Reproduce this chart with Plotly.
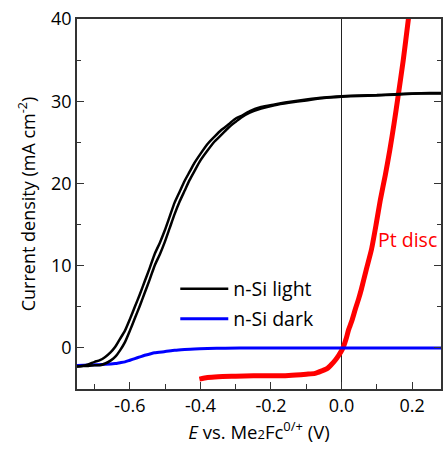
import plotly.graph_objects as go

# n-Si light (two scan directions)
E_light = [-0.75, -0.735, -0.718, -0.70, -0.685, -0.67, -0.655, -0.642, -0.628, -0.614, -0.60,
           -0.586, -0.572, -0.558, -0.544, -0.53, -0.515, -0.501, -0.487, -0.473, -0.459, -0.445,
           -0.431, -0.417, -0.40, -0.38, -0.36, -0.341, -0.32, -0.30, -0.285, -0.26, -0.228,
           -0.19, -0.15, -0.10, -0.05, 0.0, 0.05, 0.10, 0.15, 0.20, 0.25, 0.30]
J_light_fwd = [-2.25, -2.2, -2.0, -1.7, -1.5, -1.1, -0.55, 0.1, 1.1, 2.1, 3.5, 5.0, 6.5, 8.1, 9.7,
               11.4, 12.8, 14.3, 16.0, 17.7, 19.0, 20.3, 21.4, 22.5, 23.6, 24.8, 25.7, 26.5, 27.2,
               27.9, 28.2, 28.8, 29.3, 29.6, 29.9, 30.2, 30.45, 30.6, 30.7, 30.75, 30.85, 30.95,
               31.0, 31.0]
J_light_rev = [-2.25, -2.2, -2.2, -2.1, -2.1, -1.9, -1.55, -1.1, -0.3, 0.7, 2.1, 3.6, 5.1, 6.7, 8.3,
               10.0, 11.4, 12.9, 14.6, 16.3, 17.8, 19.1, 20.4, 21.5, 22.8, 24.0, 25.1, 25.9, 26.8,
               27.5, 28.0, 28.6, 29.1, 29.5, 29.8, 30.1, 30.4, 30.55, 30.65, 30.7, 30.8, 30.9,
               30.95, 30.95]

# n-Si dark
E_dark = [-0.75, -0.73, -0.70, -0.67, -0.642, -0.628, -0.614, -0.60, -0.586, -0.572, -0.558,
          -0.544, -0.53, -0.50, -0.473, -0.445, -0.417, -0.38, -0.33, -0.25, -0.15, 0.0, 0.15, 0.3]
J_dark = [-2.15, -2.1, -2.05, -2.0, -1.9, -1.8, -1.7, -1.5, -1.3, -1.1, -0.9, -0.75, -0.6, -0.45,
          -0.3, -0.2, -0.12, -0.07, -0.03, -0.01, 0, 0, 0, 0]

# Pt disc
E_pt = [-0.403, -0.38, -0.35, -0.30, -0.25, -0.20, -0.15, -0.10, -0.075, -0.056, -0.04, -0.028,
        -0.018, -0.008, 0.0, 0.006, 0.013, 0.020, 0.030, 0.039, 0.048, 0.056, 0.07, 0.085, 0.098,
        0.110, 0.124, 0.137, 0.149, 0.160, 0.175, 0.189, 0.195]
J_pt = [-3.8, -3.6, -3.5, -3.45, -3.4, -3.4, -3.35, -3.2, -3.1, -2.8, -2.5, -2.0, -1.5, -0.9,
        -0.35, 0.2, 1.1, 2.2, 3.4, 4.7, 5.9, 7.1, 9.5, 12.0, 15.0, 18.0, 21.0, 24.1, 27.3, 30.5,
        35.0, 39.8, 41.8]

x_ticks = [-0.6, -0.4, -0.2, 0.0, 0.2]
x_ticklabels = ["-0.6", "-0.4", "-0.2", "0.0", "0.2"]
x_minor = [-0.7, -0.5, -0.3, -0.1, 0.1]
y_ticks = [0, 10, 20, 30, 40]
y_ticklabels = ["0", "10", "20", "30", "40"]
y_minor = [-5, 5, 15, 25, 35]

FONT = "Open Sans"
AX = "#333333"

fig = go.Figure()
fig.add_trace(go.Scatter(x=E_pt, y=J_pt, mode="lines", line=dict(color="#ff0000", width=5, shape="spline", smoothing=0.6),
                         showlegend=False))
fig.add_trace(go.Scatter(x=E_dark, y=J_dark, mode="lines", line=dict(color="#0000ff", width=3, shape="spline", smoothing=0.6),
                         name="n-Si dark", legend="legend2"))
fig.add_trace(go.Scatter(x=E_light, y=J_light_rev, mode="lines", line=dict(color="black", width=2.5, shape="spline", smoothing=0.6),
                         showlegend=False))
fig.add_trace(go.Scatter(x=E_light, y=J_light_fwd, mode="lines", line=dict(color="black", width=2.5, shape="spline", smoothing=0.6),
                         name="n-Si light", legend="legend"))

fig.add_annotation(x=0.098, y=13.2, text="Pt disc", showarrow=False, xanchor="left", yanchor="middle",
                   font=dict(family=FONT, size=19.5, color="#ff0000"))

legend_common = dict(font=dict(family=FONT, size=19.5, color="black"), bgcolor="rgba(0,0,0,0)",
                     itemwidth=48, xanchor="left", yanchor="middle", borderwidth=0)
fig.update_layout(
    width=443, height=454,
    margin=dict(l=77, r=0, t=19, b=65),
    plot_bgcolor="white", paper_bgcolor="white",
    font=dict(family=FONT, size=18, color="black"),
    legend=dict(x=0.27, y=0.27, **legend_common),
    legend2=dict(x=0.27, y=0.189, **legend_common),
    xaxis=dict(range=[-0.75, 0.282], tickvals=x_ticks, ticktext=x_ticklabels,
               ticks="inside", ticklen=7, tickwidth=1.3, tickcolor=AX,
               minor=dict(tickvals=x_minor, ticks="inside", ticklen=5, tickwidth=1.3, tickcolor=AX),
               showline=True, linecolor=AX, linewidth=1.5, mirror=True, showgrid=False,
               zeroline=True, zerolinecolor="#222222", zerolinewidth=1.3,
               tickfont=dict(family=FONT, size=18),
               title=dict(text="<i>E</i> vs. Me<span style='font-size:13px'>2</span>Fc<sup>0/+</sup> (V)",
                          font=dict(family=FONT, size=18.5), standoff=8)),
    yaxis=dict(range=[-5, 40], tickvals=y_ticks, ticktext=y_ticklabels,
               ticks="inside", ticklen=7, tickwidth=1.3, tickcolor=AX,
               minor=dict(tickvals=y_minor, ticks="inside", ticklen=4, tickwidth=1.3, tickcolor=AX),
               showline=True, linecolor=AX, linewidth=1.5, mirror="ticks", showgrid=False,
               zeroline=False,
               tickfont=dict(family=FONT, size=18),
               title=dict(text="Current density (mA cm<sup>-2</sup>)", font=dict(family=FONT, size=18), standoff=11)),
)

fig.write_html("out.html")
